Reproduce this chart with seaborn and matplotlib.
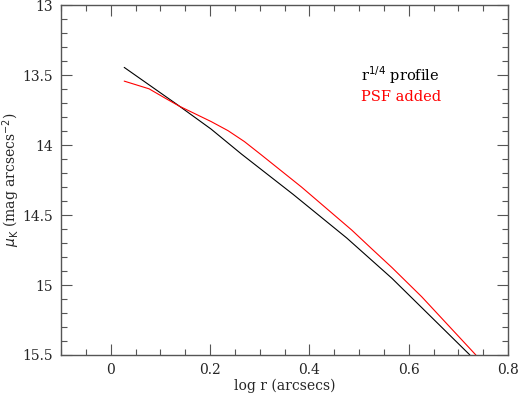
import numpy as np
import pandas as pd
import matplotlib
matplotlib.use("Agg")
import matplotlib.pyplot as plt
import seaborn as sns
from matplotlib.ticker import MultipleLocator

# values
logr_model = [0.027, 0.135, 0.202, 0.263, 0.367, 0.475, 0.566, 0.723]
mu_model = [13.445, 13.714, 13.886, 14.064, 14.352, 14.664, 14.952, 15.50]

logr_psf = [0.027, 0.077, 0.111, 0.138, 0.202, 0.236, 0.269, 0.303, 0.384, 0.485, 0.525, 0.566, 0.626, 0.735]
mu_psf = [13.543, 13.598, 13.668, 13.722, 13.832, 13.897, 13.975, 14.070, 14.300, 14.607, 14.740, 14.875, 15.084, 15.50]

df = pd.concat([
    pd.DataFrame({"logr": logr_model, "mu": mu_model, "curve": "r1/4"}),
    pd.DataFrame({"logr": logr_psf, "mu": mu_psf, "curve": "psf"}),
])

sns.set_style("ticks")
plt.rcParams["font.family"] = ["DejaVu Serif"]

fig = plt.figure(figsize=(5.18, 3.94), dpi=100)
ax = fig.add_axes([0.118, 0.099, 0.863, 0.888])

sns.lineplot(data=df, x="logr", y="mu", hue="curve", palette={"r1/4": "black", "psf": "red"},
             linewidth=0.8, legend=False, ax=ax, sort=False)

ax.set_xlim(-0.1, 0.8)
ax.set_ylim(15.5, 13)
ax.xaxis.set_minor_locator(MultipleLocator(0.05))
ax.yaxis.set_minor_locator(MultipleLocator(0.1))
ax.set_xticks([0, 0.2, 0.4, 0.6, 0.8])
ax.set_xticklabels(["0", "0.2", "0.4", "0.6", "0.8"])
ax.set_yticks([13, 13.5, 14, 14.5, 15, 15.5])
ax.set_yticklabels(["13", "13.5", "14", "14.5", "15", "15.5"])

ax.tick_params(which="both", direction="in", top=True, right=True, color="#555555", labelsize=10, pad=6)
ax.tick_params(which="major", length=8, width=0.8)
ax.tick_params(which="minor", length=4, width=0.8)
for s in ax.spines.values():
    s.set_color("#555555")
    s.set_linewidth(1.0)

ax.set_xlabel("log r (arcsecs)", fontsize=10, labelpad=1)
ax.set_ylabel(r"$\mu_{\rm K}$ (mag arcsecs$^{-2}$)", fontsize=10)
ax.yaxis.set_label_coords(-0.088, 0.5)

ax.text(0.503, 13.5, r"r$^{1/4}$ profile", color="black", fontsize=10.5, va="center")
ax.text(0.503, 13.657, "PSF added", color="red", fontsize=10.5, va="center")

fig.savefig("out.png", dpi=100, facecolor="white")
